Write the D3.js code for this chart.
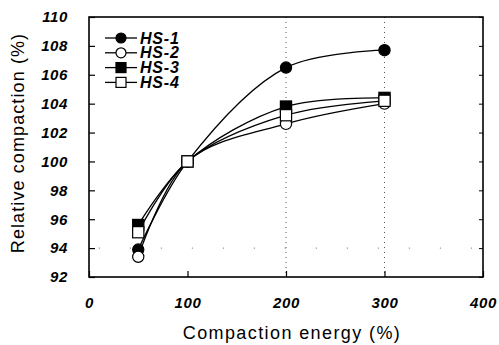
<!DOCTYPE html>
<html>
<head>
<meta charset="utf-8">
<script src="https://cdn.jsdelivr.net/npm/d3@7"></script>
<style>
  body { margin: 0; background: #fff; }
  text { font-family: "Liberation Sans", Arial, sans-serif; }
  .tick-label { font-weight: bold; font-style: italic; font-size: 15px; letter-spacing: 0.6px; }
</style>
</head>
<body>
<div id="chart"></div>
<script>
// compaction energy (%) vs relative compaction (%) for four soils
var energy = [50, 100, 200, 300];
var seriesNames = ["HS-1", "HS-2", "HS-3", "HS-4"];
var hs1 = [93.9, 100, 106.5, 107.7];
var hs2 = [93.4, 100, 102.6, 104.0];
var hs3 = [95.6, 100, 103.8, 104.4];
var hs4 = [95.1, 100, 103.2, 104.2];
var xTicks = [0, 100, 200, 300, 400];
var yTicks = [92, 94, 96, 98, 100, 102, 104, 106, 108, 110];

var markers = [
  {shape: "circle", fill: "#000"},
  {shape: "circle", fill: "#fff"},
  {shape: "square", fill: "#000"},
  {shape: "square", fill: "#fff"}
];
var allValues = [hs1, hs2, hs3, hs4];

var width = 499, height = 345;
var margin = {top: 17, right: 16, bottom: 68, left: 89};
var chartWidth = width - margin.left - margin.right;
var chartHeight = height - margin.top - margin.bottom;

var svg = d3.select("#chart").append("svg")
  .attr("width", width)
  .attr("height", height);

var g = svg.append("g")
  .attr("transform", `translate(${margin.left},${margin.top})`);

var xScale = d3.scaleLinear().domain([0, 400]).range([0, chartWidth]);
var yScale = d3.scaleLinear().domain([92, 110]).range([chartHeight, 0]);

// sparse dotted grid
g.append("g")
  .selectAll("line")
  .data([200, 300])
  .enter().append("line")
  .attr("x1", d => xScale(d)).attr("x2", d => xScale(d))
  .attr("y1", 0).attr("y2", chartHeight)
  .attr("stroke", "#555").attr("stroke-width", 1)
  .attr("stroke-dasharray", "1,4");
g.append("line")
  .attr("x1", xScale(10)).attr("x2", chartWidth)
  .attr("y1", yScale(94)).attr("y2", yScale(94))
  .attr("stroke", "#666").attr("stroke-width", 1)
  .attr("stroke-dasharray", "1,30");

// axes with inward ticks
var yAxis = d3.axisLeft(yScale).tickValues(yTicks).tickSize(-6).tickPadding(21);
var xAxis = d3.axisBottom(xScale).tickValues(xTicks).tickSize(-6).tickPadding(20);

var ya = g.append("g").call(yAxis);
var xa = g.append("g").attr("transform", `translate(0,${chartHeight})`).call(xAxis);
[ya, xa].forEach(a => {
  a.select(".domain").remove();
  a.selectAll("line").attr("stroke", "#000").attr("stroke-width", 1.2);
  a.selectAll("text").attr("class", "tick-label").attr("fill", "#000");
});
xa.selectAll("text").attr("dy", "0.71em");

// right side ticks
g.append("g")
  .attr("transform", `translate(${chartWidth},0)`)
  .call(d3.axisRight(yScale).tickValues(yTicks).tickSize(-4).tickFormat(""))
  .call(a => a.select(".domain").remove())
  .selectAll("line").attr("stroke", "#000");

// frame
g.append("rect")
  .attr("x", 0).attr("y", 0)
  .attr("width", chartWidth).attr("height", chartHeight)
  .attr("fill", "none").attr("stroke", "#000").attr("stroke-width", 1.6);

var line = d3.line()
  .x((d, i) => xScale(energy[i]))
  .y(d => yScale(d))
  .curve(d3.curveCatmullRom.alpha(0.5));

function drawMarker(sel, m, x, y, r) {
  if (m.shape === "circle") {
    sel.append("circle").attr("cx", x).attr("cy", y).attr("r", r)
      .attr("fill", m.fill).attr("stroke", "#000").attr("stroke-width", 1.2);
  } else {
    sel.append("rect").attr("x", x - r).attr("y", y - r)
      .attr("width", 2 * r).attr("height", 2 * r)
      .attr("fill", m.fill).attr("stroke", "#000").attr("stroke-width", 1.2);
  }
}

allValues.forEach((vals, k) => {
  g.append("path")
    .datum(vals)
    .attr("d", line)
    .attr("fill", "none")
    .attr("stroke", "#000")
    .attr("stroke-width", 1.3);
});
allValues.forEach((vals, k) => {
  var mg = g.append("g");
  vals.forEach((v, i) => drawMarker(mg, markers[k], xScale(energy[i]), yScale(v), 5.6));
});

// legend
var legend = g.append("g").attr("transform", "translate(16,21)");
seriesNames.forEach((name, k) => {
  var row = legend.append("g").attr("transform", `translate(0,${k * 14.8})`);
  row.append("line").attr("x1", 0).attr("x2", 32).attr("y1", 0).attr("y2", 0)
    .attr("stroke", "#000").attr("stroke-width", 1.3);
  drawMarker(row, markers[k], 16, 0, 5);
  row.append("text")
    .attr("x", 35).attr("y", 5.5)
    .style("font-weight", "bold").style("font-style", "italic")
    .style("font-size", "16px").style("letter-spacing", "0.8px")
    .text(name);
});

// axis titles
svg.append("text")
  .attr("transform", "translate(24,143) rotate(-90)")
  .attr("text-anchor", "middle")
  .style("font-size", "18px")
  .style("letter-spacing", "1.1px")
  .text("Relative compaction (%)");

svg.append("text")
  .attr("x", 292).attr("y", 339)
  .attr("text-anchor", "middle")
  .style("font-size", "18px")
  .style("letter-spacing", "1.4px")
  .text("Compaction energy (%)");
</script>
</body>
</html>
